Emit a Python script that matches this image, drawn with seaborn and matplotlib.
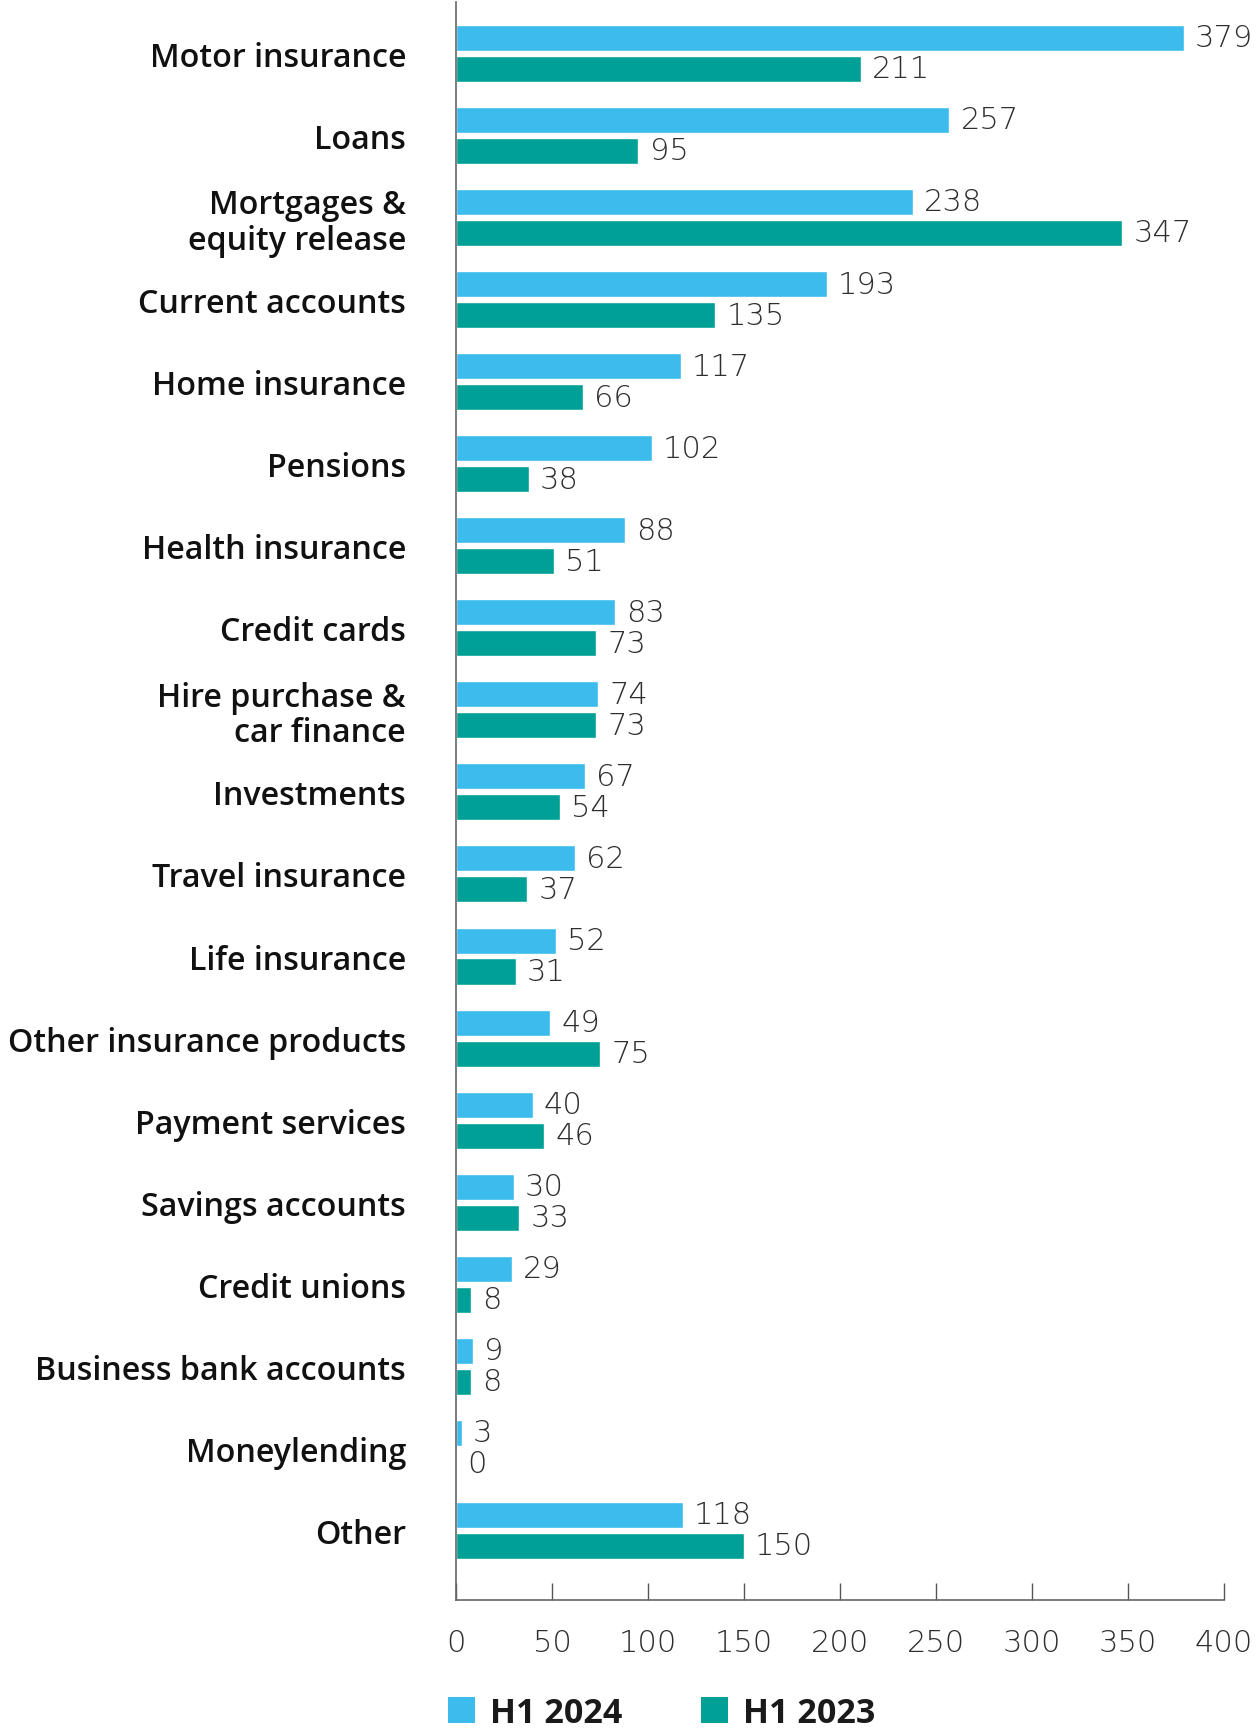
import matplotlib
matplotlib.use("Agg")
import matplotlib.pyplot as plt
from matplotlib.patches import Patch
import seaborn as sns
import pandas as pd

categories = [
    "Motor insurance", "Loans", "Mortgages &\nequity release", "Current accounts",
    "Home insurance", "Pensions", "Health insurance", "Credit cards",
    "Hire purchase &\ncar finance", "Investments", "Travel insurance",
    "Life insurance", "Other insurance products", "Payment services",
    "Savings accounts", "Credit unions", "Business bank accounts",
    "Moneylending", "Other",
]
h1_2024 = [379, 257, 238, 193, 117, 102, 88, 83, 74, 67, 62, 52, 49, 40, 30, 29, 9, 3, 118]
h1_2023 = [211, 95, 347, 135, 66, 38, 51, 73, 73, 54, 37, 31, 75, 46, 33, 8, 8, 0, 150]
series = ["H1 2024", "H1 2023"]
x_ticks = [0, 50, 100, 150, 200, 250, 300, 350, 400]

colors = {"H1 2024": "#3BBCEC", "H1 2023": "#00A096"}

df = pd.DataFrame({
    "category": categories * 2,
    "value": h1_2024 + h1_2023,
    "period": [series[0]] * len(categories) + [series[1]] * len(categories),
})

sns.set_theme(style="white")
plt.rcParams["font.family"] = ["Open Sans", "DejaVu Sans"]

num_font = {"family": ["DejaVu Sans"], "size": 22, "weight": "light"}

fig = plt.figure(figsize=(12.59, 17.31), dpi=100)
ax = fig.add_axes([0.3622, 0.075, 0.61, 0.923])

sns.barplot(
    data=df, y="category", x="value", hue="period", hue_order=series,
    order=categories, palette=colors, orient="h", width=0.755, gap=0.16,
    saturation=1, legend=False, ax=ax,
)

for cont in ax.containers:
    ax.bar_label(cont, fmt="%d", padding=8, color="#2e2e2e", **num_font)

ax.set_xlim(0, 400)
ax.set_ylim(len(categories) - 1 + 0.85, -0.62)
ax.set_xticks(x_ticks)
ax.set_xticklabels([str(t) for t in x_ticks], color="#2e2e2e", **num_font)
ax.tick_params(axis="x", direction="in", length=12, width=1, color="#555555",
               pad=20, bottom=True)
ax.tick_params(axis="y", length=0, pad=36)
for lbl in ax.get_yticklabels():
    lbl.set_fontsize(23.2)
    lbl.set_color("#111111")
    lbl.set_fontweight("semibold")
    lbl.set_linespacing(1.1)
ax.set_xlabel("")
ax.set_ylabel("")

for side in ("top", "right"):
    ax.spines[side].set_visible(False)
for side in ("left", "bottom"):
    ax.spines[side].set_color("#666666")
    ax.spines[side].set_linewidth(1.2)

handles = [Patch(facecolor=colors[s], edgecolor="none", label=s) for s in series]
fig.legend(
    handles=handles, loc="lower left", bbox_to_anchor=(0.3555, 0.0), ncol=2,
    frameon=False, handlelength=0.8, handleheight=0.8, handletextpad=0.45,
    columnspacing=2.3, prop={"family": "Open Sans", "size": 24.5, "weight": "bold"},
    labelcolor="#1a1a1a", borderaxespad=0, borderpad=0,
)

fig.savefig("out.png", dpi=100)
